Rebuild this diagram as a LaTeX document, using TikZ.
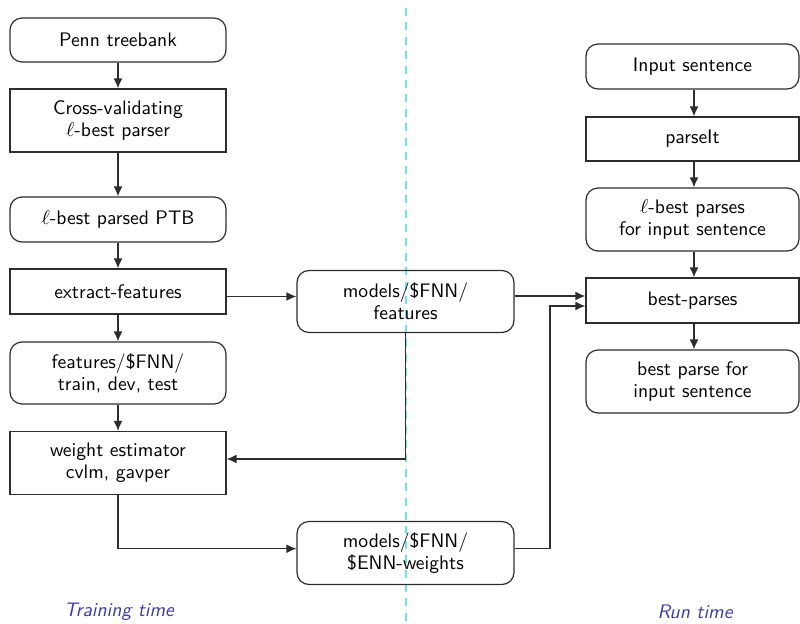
\documentclass[tikz,border=0pt]{standalone}
\usetikzlibrary{arrows.meta,calc}
\definecolor{lineclr}{RGB}{45,45,45}
\definecolor{dashclr}{RGB}{110,228,232}
\definecolor{labclr}{RGB}{62,62,160}
\begin{document}
\begin{tikzpicture}[x=0.5pt,y=-0.5pt,
  every node/.style={font=\sffamily\fontsize{9.8}{11}\selectfont, align=center, inner sep=0pt},
  rbox/.style={draw=lineclr, line width=0.6pt, rounded corners=6pt, minimum width=108pt},
  sbox/.style={draw=lineclr, line width=0.6pt, minimum width=108pt},
  arr/.style={draw=lineclr, line width=0.6pt, -{Latex[length=5pt,width=4.4pt]}},
  lab/.style={text=labclr, font=\sffamily\itshape\fontsize{9.8}{11}\selectfont}]
\useasboundingbox (0,0) rectangle (800,623);
% divider
\draw[dashclr, line width=1pt, dash pattern=on 4pt off 3.2pt] (406,8) -- (406,623);
% left column
\node[rbox, minimum height=22pt] (penn) at (118,40) {Penn treebank};
\node[sbox, minimum height=31.5pt] (cross) at (118,120.5) {Cross-validating\\$\ell$-best parser};
\node[rbox, minimum height=22.5pt] (lbest) at (118,219.5) {$\ell$-best parsed PTB};
\node[sbox, minimum height=22.5pt] (extract) at (118,291.5) {extract-features};
\node[rbox, minimum height=31pt] (featfnn) at (118,373) {features/\$FNN/\\train, dev, test};
\node[sbox, minimum height=31.5pt] (weight) at (118,463) {weight estimator\\cvlm, gavper};
% middle
\node[rbox, minimum width=108.5pt, minimum height=31pt] (modfeat) at (405.5,301.5) {models/\$FNN/\\features};
\node[rbox, minimum width=108.5pt, minimum height=31.5pt] (modw) at (405.5,553) {models/\$FNN/\\\$ENN-weights};
% right column
\node[rbox, minimum width=106.5pt, minimum height=22.5pt] (input) at (692.5,66.5) {Input sentence};
\node[sbox, minimum width=106.5pt, minimum height=22pt] (parseit) at (692.5,139) {parseIt};
\node[rbox, minimum width=106.5pt, minimum height=31.5pt] (lbp) at (692.5,219.5) {$\ell$-best parses\\for input sentence};
\node[sbox, minimum width=106.5pt, minimum height=22.5pt] (bestp) at (692.5,300.5) {best-parses};
\node[rbox, minimum width=106.5pt, minimum height=31.5pt] (bpfor) at (692.5,381.5) {best parse for\\input sentence};
% labels
\node[lab] (trainlab) at (119,612) {Training time};
\node[lab] (runlab) at (695,612) {Run time};
% left arrows
\draw[arr] (penn) -- (cross);
\draw[arr] (cross) -- (lbest);
\draw[arr] (lbest) -- (extract);
\draw[arr] (extract) -- (featfnn);
\draw[arr] (featfnn) -- (weight);
% right arrows
\draw[arr] (input.south -| 694,0) -- (parseit.north -| 694,0);
\draw[arr] (parseit.south -| 694,0) -- (lbp.north -| 694,0);
\draw[arr] (lbp.south -| 694,0) -- (bestp.north -| 694,0);
\draw[arr] (bestp.south -| 694,0) -- (bpfor.north -| 694,0);
% cross connections
\draw[arr] (extract.east |- 0,296.5) -- (modfeat.west |- 0,296.5);
\draw[arr] (modfeat.east |- 0,296) -- (bestp.west |- 0,296);
\draw[arr] (modfeat.south) -- (modfeat.south |- 0,459) -- (weight.east |- 0,459);
\draw[arr] (weight.south) -- (weight.south |- 0,548.7) -- (modw.west |- 0,548.7);
\draw[arr] (modw.east |- 0,548.7) -- (550,548.7) -- (550,306) -- (bestp.west |- 0,306);
\end{tikzpicture}
\end{document}
